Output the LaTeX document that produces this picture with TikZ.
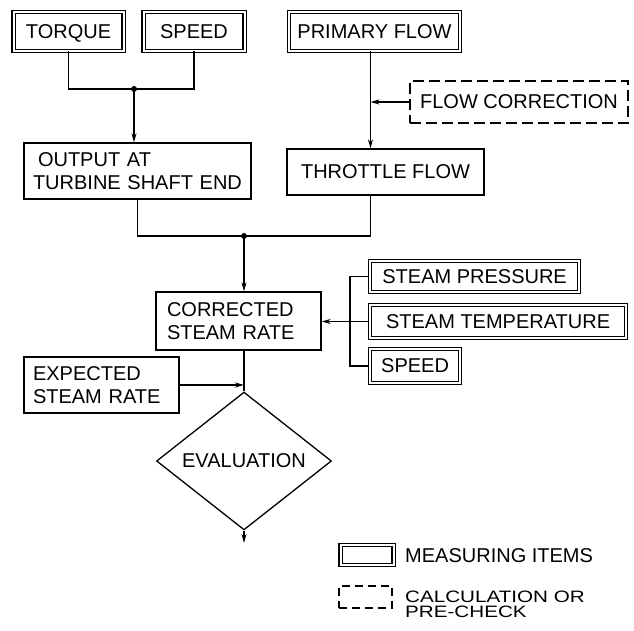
\documentclass[tikz,border=0pt]{standalone}
\usepackage{fontspec}
\setmainfont{Liberation Sans}
\newfontfamily\keyfont[FakeStretch=1.25]{Liberation Sans}
\usetikzlibrary{positioning,arrows.meta,calc,shapes.geometric}
\newcommand{\bigtxt}{\fontsize{20}{23}\selectfont}
\tikzset{
  meas/.style    = {rectangle, draw, double, double distance=2pt, line width=1.1pt,
                    inner sep=0pt, text depth=0pt, font=\bigtxt},
  calcbox/.style = {rectangle, draw, line width=1.2pt, dash pattern=on 11pt off 5pt,
                    inner sep=0pt, font=\bigtxt},
  proc/.style    = {rectangle, draw, line width=1.3pt, inner sep=0pt, align=left, font=\bigtxt},
  decide/.style  = {diamond, draw, line width=1.3pt, inner sep=0pt, font=\bigtxt},
  conn/.style    = {line width=1.3pt},
  arr/.style     = {conn, -{Stealth[length=9pt,width=5pt]}},
  jdot/.style    = {circle, fill=black, minimum size=6pt, inner sep=0pt},
  lab/.style     = {font=\bigtxt, align=left, inner sep=0pt},
}
\begin{document}
\begin{tikzpicture}[x=1pt, y=-1pt]
  \useasboundingbox (0,0) rectangle (634,631);

  % measured inputs
  \node[meas, minimum width=110, minimum height=38.5] (torque)  at (68.5,31.5) {TORQUE};
  \node[meas, minimum width=101, minimum height=38.5] (speed)   at (194,31.5)  {SPEED};
  \node[meas, minimum width=171, minimum height=38.5] (primary) at (374.5,31.5) {PRIMARY FLOW};
  \node[calcbox, minimum width=218, minimum height=42] (flowcorr) at (519,102) {FLOW CORRECTION};

  \node[proc, minimum width=227, minimum height=56, inner xsep=9pt, text width=209pt]
    (output) at (137.5,171) {\hspace{5pt}OUTPUT AT\\TURBINE SHAFT END};
  \node[proc, minimum width=197, minimum height=46] (throttle) at (385.5,172) {THROTTLE FLOW};
  \node[proc, minimum width=165, minimum height=58, inner xsep=11pt, text width=143pt]
    (corrected) at (238.5,321) {CORRECTED\\STEAM RATE};

  \node[meas, anchor=west, minimum width=209.5, minimum height=30.5] (press) at (369.3,276.5) {STEAM PRESSURE};
  \node[meas, anchor=west, minimum width=256.5, minimum height=32.5] (temp)  at (369.3,321.5) {STEAM TEMPERATURE};
  \node[meas, anchor=west, minimum width=90.5,  minimum height=33.5] (spd2)  at (369.3,366)   {SPEED};

  \node[proc, minimum width=155, minimum height=56, inner xsep=9pt, text width=137pt]
    (expected) at (101.5,385) {EXPECTED\\STEAM RATE};
  \node[decide, minimum width=175, minimum height=100] (eval) at (244,461) {EVALUATION};

  \node[jdot] (jn1) at (134,89) {};
  \node[jdot] (jn2) at (244,236) {};
  \coordinate (ftop) at ($(primary.south)+(-4,0)$);
  \coordinate (brk)  at (350,321.5);
  \coordinate (endpt) at (244,543);

  % connectors
  \draw[conn] (torque.south) |- (jn1.center) -| (speed.south);
  \draw[arr]  (jn1.center) -- (jn1 |- output.north);
  \draw[arr]  (ftop) -- (ftop |- throttle.north);
  \draw[arr]  (flowcorr.west) -- (flowcorr.west -| ftop);
  \draw[conn] (output.south) |- (jn2.center) -| (throttle.south -| ftop);
  \draw[arr]  (jn2.center) -- (jn2 |- corrected.north);
  \draw[conn] (press.west) -| (brk) |- (spd2.west);
  \draw[conn] (temp.west) -- (brk);
  \draw[arr]  (brk) -- (brk -| corrected.east);
  \draw[conn] (corrected.south -| eval.north) -- (eval.north);
  \draw[arr]  (expected.east) -- (expected.east -| eval.north);
  \draw[arr]  (eval.south) -- (endpt);

  % key
  \node[meas, minimum width=53, minimum height=20] (keymeas) at (367,555) {};
  \node[lab, anchor=west] (keymeastxt) at (405,556) {MEASURING ITEMS};
  \node[calcbox, dash pattern=on 8pt off 5pt, minimum width=53, minimum height=22] (keycalc) at (365.5,597) {};
  \node[lab, anchor=west, font=\keyfont\fontsize{16.5}{15}\selectfont] (keycalctxt) at (405,604.5) {CALCULATION OR\\PRE-CHECK};

\end{tikzpicture}
\end{document}
